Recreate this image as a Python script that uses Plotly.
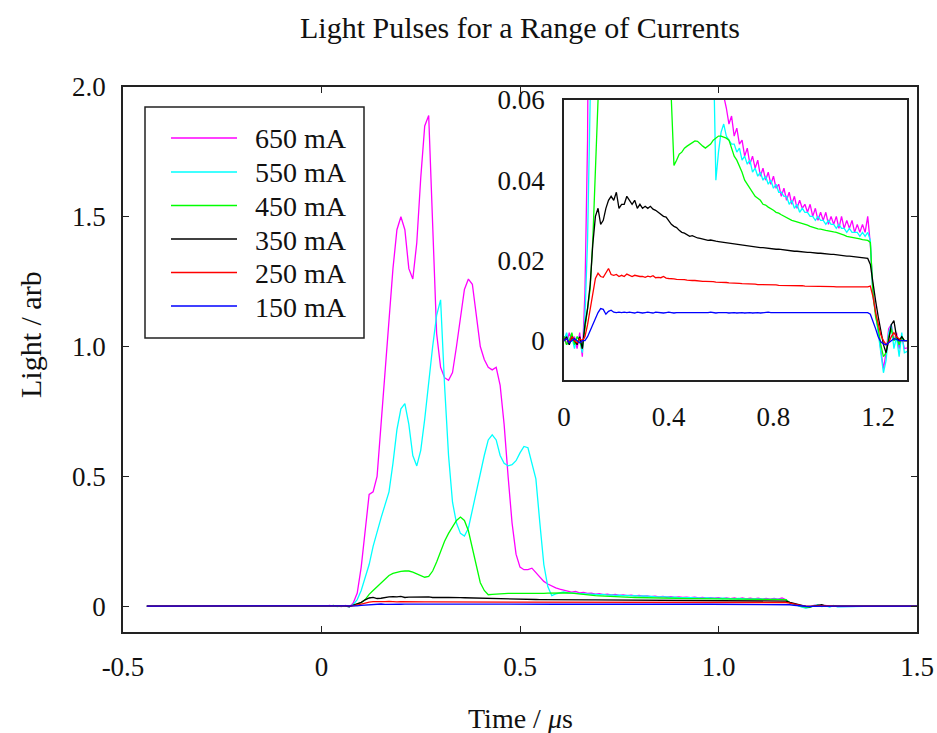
import plotly.graph_objects as go

# ---------------- data ----------------
# shared sample times (microseconds)
T = [-0.44,
     0.00, 0.01, 0.02, 0.03, 0.04, 0.05, 0.06, 0.07, 0.08, 0.09,
     0.10, 0.11, 0.12, 0.13, 0.14, 0.15, 0.16, 0.17, 0.18, 0.19,
     0.20, 0.21, 0.22, 0.23, 0.24, 0.25, 0.26, 0.27, 0.28, 0.29,
     0.30, 0.31, 0.32, 0.33, 0.34, 0.35, 0.36, 0.37, 0.38, 0.39,
     0.40, 0.41, 0.42, 0.43, 0.44, 0.45, 0.46, 0.47, 0.48, 0.49,
     0.50, 0.51, 0.52, 0.53, 0.54, 0.55, 0.56, 0.57, 0.58, 0.59,
     0.60, 0.61, 0.62, 0.63, 0.64, 0.65, 0.66, 0.67, 0.68, 0.69,
     0.70, 0.71, 0.72, 0.73, 0.74, 0.75, 0.76, 0.77, 0.78, 0.79,
     0.80, 0.81, 0.82, 0.83, 0.84, 0.85, 0.86, 0.87, 0.88, 0.89,
     0.90, 0.91, 0.92, 0.93, 0.94, 0.95, 0.96, 0.97, 0.98, 0.99,
     1.00, 1.01, 1.02, 1.03, 1.04, 1.05, 1.06, 1.07, 1.08, 1.09,
     1.10, 1.11, 1.12, 1.13, 1.14, 1.15, 1.16, 1.17, 1.18, 1.19,
     1.20, 1.21, 1.22, 1.23, 1.24, 1.25, 1.26, 1.27, 1.28, 1.29,
     1.30, 1.40, 1.50]

light_650 = [0.0,
     0.001, -0.001, 0.002, 0.000, 0.001, -0.002, 0.002, -0.004, 0.012, 0.05,
     0.15, 0.30, 0.43, 0.44, 0.50, 0.70, 0.90, 1.10, 1.30, 1.45,
     1.50, 1.45, 1.30, 1.26, 1.40, 1.65, 1.85, 1.89, 1.45, 1.05,
     0.92, 0.88, 0.87, 0.90, 1.00, 1.12, 1.22, 1.26, 1.24, 1.12,
     1.00, 0.95, 0.92, 0.91, 0.92, 0.85, 0.70, 0.50, 0.32, 0.20,
     0.15, 0.14, 0.14, 0.146, 0.13, 0.11, 0.095, 0.085, 0.076, 0.070,
     0.065, 0.061, 0.058, 0.054, 0.056, 0.051, 0.053, 0.049, 0.050, 0.046,
     0.048, 0.044, 0.046, 0.043, 0.045, 0.041, 0.043, 0.040, 0.042, 0.039,
     0.041, 0.038, 0.039, 0.036, 0.038, 0.035, 0.037, 0.034, 0.036, 0.033,
     0.035, 0.033, 0.034, 0.032, 0.034, 0.031, 0.033, 0.030, 0.032, 0.030,
     0.032, 0.029, 0.031, 0.029, 0.031, 0.028, 0.031, 0.028, 0.030, 0.028,
     0.030, 0.027, 0.029, 0.027, 0.029, 0.027, 0.031, 0.024, 0.012, 0.007,
     0.003, -0.002, -0.007, -0.003, 0.003, 0.004, 0.000, 0.002, -0.002, 0.001,
     -0.002, 0.0, 0.0]

light_550 = [0.0,
     0.000, 0.002, -0.001, 0.001, -0.002, 0.001, 0.000, -0.003, 0.006, 0.025,
     0.06, 0.11, 0.16, 0.23, 0.29, 0.34, 0.39, 0.44, 0.55, 0.68,
     0.76, 0.78, 0.70, 0.58, 0.54, 0.60, 0.72, 0.87, 1.00, 1.12,
     1.18, 0.85, 0.58, 0.40, 0.32, 0.28, 0.27, 0.30, 0.37, 0.45,
     0.52, 0.58, 0.64, 0.66, 0.64, 0.58, 0.55, 0.54, 0.545, 0.56,
     0.59, 0.615, 0.61, 0.55, 0.49, 0.32, 0.16, 0.075, 0.040, 0.047,
     0.052, 0.054, 0.051, 0.050, 0.049, 0.049, 0.047, 0.048, 0.045, 0.046,
     0.044, 0.045, 0.042, 0.043, 0.041, 0.042, 0.040, 0.041, 0.039, 0.040,
     0.038, 0.039, 0.037, 0.037, 0.036, 0.036, 0.034, 0.035, 0.033, 0.034,
     0.032, 0.033, 0.032, 0.032, 0.031, 0.031, 0.030, 0.031, 0.030, 0.030,
     0.029, 0.030, 0.029, 0.029, 0.028, 0.029, 0.028, 0.028, 0.027, 0.028,
     0.027, 0.027, 0.027, 0.026, 0.027, 0.026, 0.027, 0.025, 0.011, 0.007,
     0.002, -0.004, -0.008, -0.005, 0.002, 0.004, -0.002, 0.001, -0.004, 0.002,
     -0.003, 0.0, 0.0]

light_450 = [0.0,
     0.001, -0.001, 0.000, 0.002, -0.001, 0.001, 0.000, -0.002, 0.003, 0.007,
     0.013, 0.025, 0.045, 0.06, 0.075, 0.09, 0.105, 0.118, 0.126, 0.131,
     0.134, 0.135, 0.135, 0.131, 0.124, 0.116, 0.111, 0.114, 0.135, 0.17,
     0.21, 0.25, 0.28, 0.305, 0.33, 0.343, 0.33, 0.29, 0.22, 0.15,
     0.09, 0.06, 0.0437, 0.045, 0.0465, 0.047, 0.048, 0.0485, 0.049, 0.0495,
     0.0498, 0.0497, 0.049, 0.0485, 0.048, 0.0485, 0.049, 0.050, 0.0505, 0.051,
     0.051, 0.0508, 0.0505, 0.050, 0.048, 0.046, 0.045, 0.0435, 0.042, 0.040,
     0.039, 0.038, 0.037, 0.036, 0.0355, 0.035, 0.034, 0.0338, 0.0333, 0.033,
     0.0325, 0.032, 0.0318, 0.0314, 0.031, 0.0306, 0.0302, 0.030, 0.0298, 0.0296,
     0.0295, 0.0292, 0.029, 0.0288, 0.0285, 0.0283, 0.028, 0.0279, 0.0278, 0.0276,
     0.0275, 0.0274, 0.0272, 0.0271, 0.027, 0.0268, 0.0265, 0.0263, 0.026, 0.0259,
     0.0258, 0.0257, 0.0255, 0.0254, 0.0252, 0.0251, 0.025, 0.0245, 0.012, 0.006,
     0.003, -0.001, -0.004, -0.003, 0.001, 0.003, 0.000, 0.001, -0.001, 0.001,
     0.0, 0.0, 0.0]

light_350 = [0.0,
     0.000, 0.001, -0.001, 0.001, 0.000, -0.001, 0.001, -0.002, 0.004, 0.008,
     0.014, 0.024, 0.031, 0.033, 0.029, 0.030, 0.033, 0.035, 0.036, 0.035,
     0.037, 0.033, 0.034, 0.034, 0.036, 0.035, 0.034, 0.035, 0.033, 0.034,
     0.033, 0.0335, 0.033, 0.0335, 0.0328, 0.0325, 0.032, 0.0315, 0.031, 0.0308,
     0.030, 0.029, 0.0285, 0.0282, 0.0275, 0.027, 0.0268, 0.0265, 0.026, 0.0262,
     0.0258, 0.0256, 0.0255, 0.0253, 0.0252, 0.025, 0.0251, 0.0249, 0.0248, 0.0247,
     0.0246, 0.0245, 0.0244, 0.0243, 0.0242, 0.0241, 0.024, 0.0239, 0.0238, 0.0237,
     0.0236, 0.0235, 0.0234, 0.0234, 0.0233, 0.0232, 0.0232, 0.0231, 0.023, 0.023,
     0.0229, 0.0228, 0.0228, 0.0227, 0.0226, 0.0225, 0.0225, 0.0224, 0.0223, 0.0223,
     0.0222, 0.0222, 0.0221, 0.022, 0.022, 0.0219, 0.0219, 0.0218, 0.0218, 0.0217,
     0.0217, 0.0216, 0.0215, 0.0215, 0.0214, 0.0213, 0.0213, 0.0212, 0.0211, 0.0211,
     0.021, 0.0209, 0.0208, 0.0208, 0.0207, 0.0206, 0.0205, 0.019, 0.014, 0.010,
     0.006, 0.002, -0.001, -0.003, 0.000, 0.004, 0.005, 0.001, 0.000, 0.001,
     0.0, 0.0, 0.0]

light_250 = [0.0,
     0.000, 0.0005, -0.0005, 0.001, 0.000, -0.0005, 0.0005, 0.000, 0.001, 0.004,
     0.008, 0.012, 0.0155, 0.0168, 0.016, 0.0158, 0.017, 0.018, 0.0165, 0.0163,
     0.0165, 0.016, 0.0163, 0.016, 0.0166, 0.0162, 0.016, 0.0163, 0.0161, 0.016,
     0.016, 0.0158, 0.0161, 0.0159, 0.0162, 0.0157, 0.0158, 0.0157, 0.016, 0.0156,
     0.0155, 0.0155, 0.0154, 0.0153, 0.0153, 0.0152, 0.0152, 0.0151, 0.015, 0.015,
     0.015, 0.0149, 0.0149, 0.0148, 0.0148, 0.0148, 0.0147, 0.0147, 0.0146, 0.0146,
     0.0146, 0.0145, 0.0145, 0.0144, 0.0144, 0.0143, 0.0143, 0.0143, 0.0142, 0.0142,
     0.0142, 0.0141, 0.0141, 0.0141, 0.014, 0.014, 0.014, 0.014, 0.0139, 0.0139,
     0.0139, 0.0139, 0.0138, 0.0138, 0.0138, 0.0138, 0.0138, 0.0137, 0.0137, 0.0137,
     0.0137, 0.0137, 0.0136, 0.0136, 0.0136, 0.0136, 0.0136, 0.0136, 0.0135, 0.0135,
     0.0135, 0.0135, 0.0135, 0.0135, 0.0134, 0.0134, 0.0134, 0.0134, 0.0134, 0.0134,
     0.0133, 0.0133, 0.0133, 0.0133, 0.0133, 0.0133, 0.0134, 0.0136, 0.011, 0.007,
     0.004, 0.0015, 0.000, -0.001, -0.0005, 0.001, 0.002, 0.001, 0.0005, 0.000,
     0.0, 0.0, 0.0]

light_150 = [0.0,
     0.000, 0.0005, -0.0005, 0.000, 0.0005, 0.000, -0.0005, 0.000, 0.000, 0.001,
     0.0025, 0.004, 0.0055, 0.007, 0.008, 0.0078, 0.0066, 0.0073, 0.0076, 0.0071,
     0.007, 0.0071, 0.007, 0.0071, 0.007, 0.0071, 0.007, 0.0069, 0.0071, 0.007,
     0.0069, 0.007, 0.0071, 0.007, 0.0069, 0.0071, 0.007, 0.007, 0.0069, 0.007,
     0.0071, 0.007, 0.0069, 0.007, 0.007, 0.0069, 0.007, 0.007, 0.0069, 0.007,
     0.0069, 0.007, 0.007, 0.0069, 0.007, 0.007, 0.0071, 0.007, 0.0069, 0.007,
     0.007, 0.0071, 0.007, 0.0069, 0.007, 0.007, 0.0069, 0.007, 0.007, 0.0069,
     0.007, 0.007, 0.0069, 0.007, 0.007, 0.0069, 0.007, 0.007, 0.0071, 0.007,
     0.007, 0.0069, 0.007, 0.007, 0.0069, 0.007, 0.007, 0.0069, 0.007, 0.007,
     0.0069, 0.007, 0.007, 0.0069, 0.007, 0.007, 0.0069, 0.007, 0.007, 0.0069,
     0.007, 0.007, 0.0069, 0.007, 0.007, 0.0069, 0.007, 0.007, 0.0069, 0.007,
     0.007, 0.0069, 0.007, 0.007, 0.0069, 0.007, 0.007, 0.0066, 0.005, 0.003,
     0.001, -0.0003, -0.0008, -0.001, -0.0005, 0.000, 0.0005, 0.0003, 0.000, 0.000,
     0.0, 0.0, 0.0]

series_names = ["650 mA", "550 mA", "450 mA", "350 mA", "250 mA", "150 mA"]
series_values = [light_650, light_550, light_450, light_350, light_250, light_150]
series_colors = ["#FF00FF", "#00FFFF", "#00FF00", "#000000", "#FF0000", "#0000FF"]

main_xticks = [-0.5, 0.0, 0.5, 1.0, 1.5]
main_xlabels = ["-0.5", "0", "0.5", "1.0", "1.5"]
main_yticks = [0.0, 0.5, 1.0, 1.5, 2.0]
main_ylabels = ["0", "0.5", "1.0", "1.5", "2.0"]
inset_xticks = [0.0, 0.4, 0.8, 1.2]
inset_xlabels = ["0", "0.4", "0.8", "1.2"]
inset_yticks = [0.0, 0.02, 0.04, 0.06]
inset_ylabels = ["0", "0.02", "0.04", "0.06"]

# ---------------- figure ----------------
FONT = "Liberation Serif, Times New Roman, serif"
W, H = 937, 733
L, R, TOP, B = 123, 20, 87, 101
PW, PH = W - L - R, H - TOP - B


def px_to_paper_x(px):
    return (px - L) / PW


def py_to_paper_y(py):
    return (H - B - py) / PH


fig = go.Figure()

for name, vals, col in zip(series_names, series_values, series_colors):
    fig.add_trace(go.Scatter(x=T, y=vals, mode="lines", name=name,
                             line=dict(color=col, width=1.3),
                             showlegend=False, xaxis="x", yaxis="y"))
for name, vals, col in zip(series_names, series_values, series_colors):
    fig.add_trace(go.Scatter(x=T, y=vals, mode="lines", name=name,
                             line=dict(color=col, width=1.3),
                             showlegend=False, xaxis="x2", yaxis="y2"))

axis_common = dict(showgrid=False, zeroline=False, showline=True, automargin=False,
                   linecolor="#222222", linewidth=1.6, mirror="ticks",
                   ticks="inside", ticklen=6, tickwidth=1, tickcolor="#222222",
                   tickfont=dict(family=FONT, size=27, color="#111111"))
inset_common = dict(showgrid=False, zeroline=False, showline=True, mirror=True,
                    automargin=False, linecolor="#222222", linewidth=1.6, ticks="",
                    ticklabelstandoff=12,
                    tickfont=dict(family=FONT, size=27, color="#111111"))

# legend key (box, sample lines, labels) placed in paper coordinates
shapes = [dict(type="rect", xref="paper", yref="paper",
               x0=px_to_paper_x(145), x1=px_to_paper_x(364),
               y0=py_to_paper_y(338), y1=py_to_paper_y(107),
               line=dict(color="#222222", width=1.5), fillcolor="white", layer="above")]
annotations = []
row_y = [138, 172, 205.5, 239, 272.5, 306]
for name, col, ry in zip(series_names, series_colors, row_y):
    shapes.append(dict(type="line", xref="paper", yref="paper",
                       x0=px_to_paper_x(171), x1=px_to_paper_x(237),
                       y0=py_to_paper_y(ry), y1=py_to_paper_y(ry),
                       line=dict(color=col, width=1.5), layer="above"))
    annotations.append(dict(text=name, xref="paper", yref="paper",
                            x=px_to_paper_x(253), y=py_to_paper_y(ry),
                            xanchor="left", yanchor="middle", yshift=-1,
                            showarrow=False,
                            font=dict(family=FONT, size=28, color="#111111")))

annotations += [
    dict(text="Time / <i>μ</i>s", xref="paper", yref="paper",
         x=0.5, y=py_to_paper_y(718), xanchor="center", yanchor="middle",
         showarrow=False, font=dict(family=FONT, size=28, color="#111111")),
    dict(text="Light / arb", xref="paper", yref="paper", textangle=-90,
         x=px_to_paper_x(30), y=py_to_paper_y(335), xanchor="center", yanchor="middle",
         showarrow=False, font=dict(family=FONT, size=30, color="#111111")),
]

fig.update_layout(
    width=W, height=H,
    paper_bgcolor="white", plot_bgcolor="white",
    margin=dict(l=L, r=R, t=TOP, b=B),
    title=dict(text="Light Pulses for a Range of Currents",
               x=0.5, xref="paper", y=1 - 27 / H, yanchor="middle",
               font=dict(family=FONT, size=30, color="#111111")),
    xaxis=dict(range=[-0.5, 1.5], tickvals=main_xticks, ticktext=main_xlabels,
               ticklabelstandoff=10, **axis_common),
    yaxis=dict(range=[-0.1, 2.0], tickvals=main_yticks, ticktext=main_ylabels,
               ticklabelstandoff=10, **axis_common),
    xaxis2=dict(domain=[px_to_paper_x(564), px_to_paper_x(907)], anchor="y2",
                range=[0.0, 1.31], tickvals=inset_xticks, ticktext=inset_xlabels,
                **inset_common),
    yaxis2=dict(domain=[py_to_paper_y(380), py_to_paper_y(100)], anchor="x2",
                range=[-0.0098, 0.06], tickvals=inset_yticks, ticktext=inset_ylabels,
                **inset_common),
    showlegend=False,
    shapes=shapes,
    annotations=annotations,
)

fig.write_html("out.html", config={"displayModeBar": False},
               post_script="document.body.style.margin='0px';document.body.style.overflow='hidden';")
